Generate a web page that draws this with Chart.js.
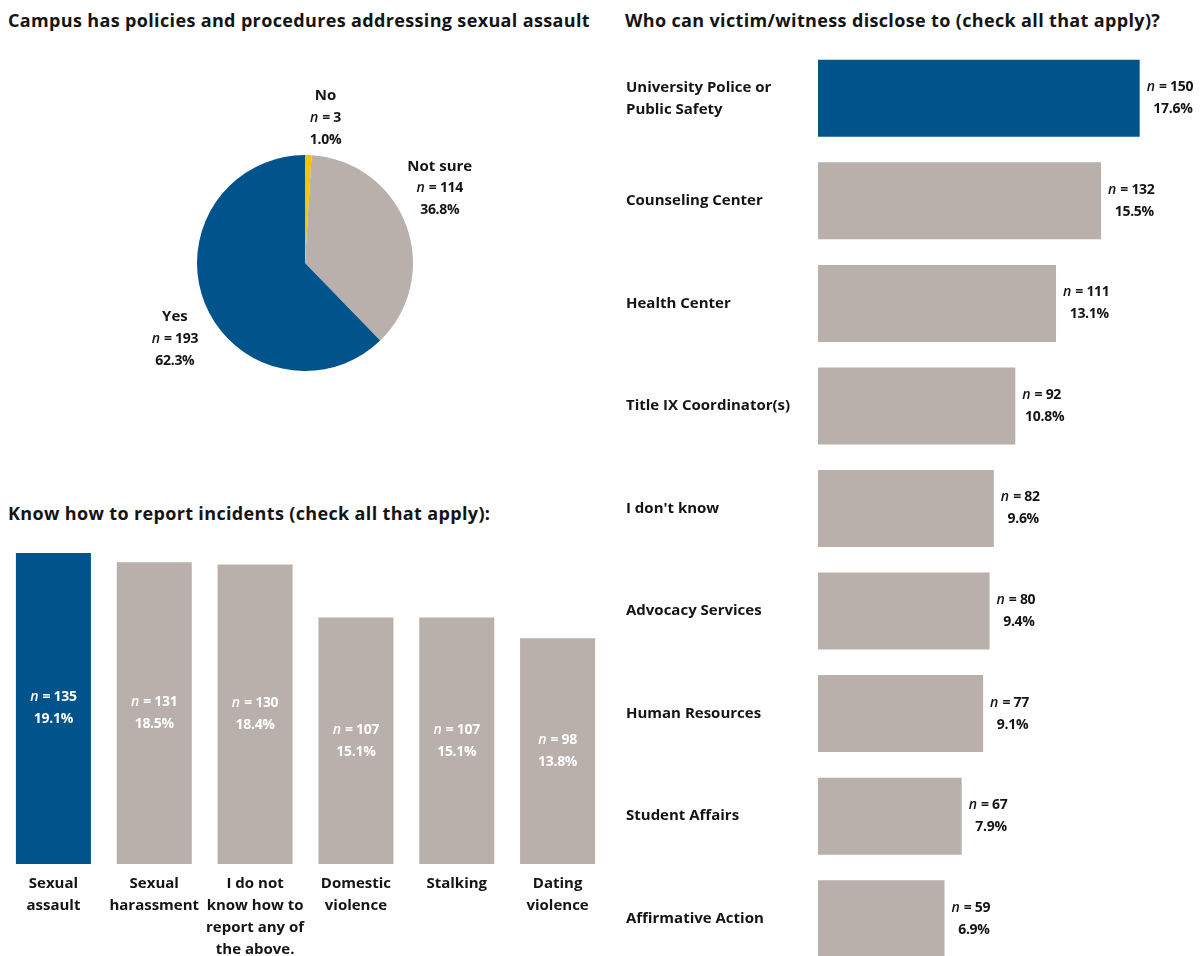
<!DOCTYPE html>
<html><head><meta charset="utf-8">
<script src="https://cdn.jsdelivr.net/npm/chart.js@4"></script>
<style>
html,body{margin:0;padding:0;background:#fff;overflow:hidden;width:1204px;height:956px;}
.t{position:absolute;font-family:"Open Sans",Lato,sans-serif;font-weight:700;font-size:18px;color:#141414;white-space:nowrap;line-height:22px;letter-spacing:0.35px;}
canvas{position:absolute;}
</style></head><body>
<div class="t" style="left:8px;top:9px">Campus has policies and procedures addressing sexual assault</div>
<div class="t" style="left:8px;top:502px">Know how to report incidents (check all that apply):</div>
<div class="t" style="left:625px;top:9px">Who can victim/witness disclose to (check all that apply)?</div>
<div style="position:absolute;left:105px;top:75px;width:400px;height:376px"><canvas id="pie"></canvas></div>
<div style="position:absolute;left:0px;top:540px;width:610px;height:434px"><canvas id="rep"></canvas></div>
<div style="position:absolute;left:610px;top:0px;width:594px;height:992px"><canvas id="dis"></canvas></div>
<script>
// ---- data ----
const pieLabels = ['No', 'Not sure', 'Yes'];
const pieCounts = [3, 114, 193];
const piePercents = ['1.0%', '36.8%', '62.3%'];

const reportLabels = [['Sexual','assault'], ['Sexual','harassment'], ['I do not','know how to','report any of','the above.'], ['Domestic','violence'], ['Stalking'], ['Dating','violence']];
const reportCounts = [135, 131, 130, 107, 107, 98];
const reportPercents = ['19.1%', '18.5%', '18.4%', '15.1%', '15.1%', '13.8%'];

const discloseLabels = [['University Police or','Public Safety'], 'Counseling Center', 'Health Center', 'Title IX Coordinator(s)', "I don't know", 'Advocacy Services', 'Human Resources', 'Student Affairs', 'Affirmative Action'];
const discloseCounts = [150, 132, 111, 92, 82, 80, 77, 67, 59];
const disclosePercents = ['17.6%', '15.5%', '13.1%', '10.8%', '9.6%', '9.4%', '9.1%', '7.9%', '6.9%'];

// ---- style ----
const BLUE = '#01548b', GRAY = '#b9b0ab', YELLOW = '#f4c400', TEXT = '#141414';
const FAM = '"Open Sans", Lato, sans-serif';
const LFONT = '700 14px ' + FAM;
const LFONT_I = 'italic 600 14px ' + FAM;
const NAMEFONT = '700 15px ' + FAM;
const SP = '-0.3px';
const LH = 22;
Chart.defaults.font.family = FAM;
Chart.defaults.animation = false;

function measure(ctx, s, font) {
  ctx.save(); ctx.font = font; ctx.letterSpacing = SP; const w = ctx.measureText(s).width; ctx.restore(); return w;
}
function drawNLine(ctx, count, cx, cy, color) {
  const wN = measure(ctx, 'n', LFONT_I) + 1;
  const rest = ' = ' + count;
  const wR = measure(ctx, rest, LFONT);
  const x0 = cx - (wN + wR) / 2;
  ctx.save();
  ctx.fillStyle = color; ctx.textBaseline = 'middle'; ctx.textAlign = 'left'; ctx.letterSpacing = SP;
  ctx.font = LFONT_I; ctx.fillText('n', x0, cy);
  ctx.font = LFONT; ctx.fillText(rest, x0 + wN, cy);
  ctx.restore();
}
function drawText(ctx, s, cx, cy, color, font) {
  ctx.save(); ctx.fillStyle = color; ctx.font = font || LFONT; ctx.letterSpacing = font ? '0px' : SP;
  ctx.textAlign = 'center'; ctx.textBaseline = 'middle';
  ctx.fillText(s, cx, cy); ctx.restore();
}

// ---- pie ----
const pieLabelPlugin = {
  id: 'pieLabels',
  afterDatasetsDraw(chart, args, opts) {
    const ctx = chart.ctx;
    chart.getDatasetMeta(0).data.forEach((arc, i) => {
      const p = arc.getProps(['x','y','startAngle','endAngle','outerRadius'], true);
      const mid = (p.startAngle + p.endAngle) / 2;
      const r = p.outerRadius * opts.radiusFactor;
      const off = opts.offsets[i];
      const cx = p.x + Math.cos(mid) * r + off[0];
      const cy = p.y + Math.sin(mid) * r + off[1];
      drawText(ctx, pieLabels[i], cx, cy - LH, TEXT, NAMEFONT);
      drawNLine(ctx, pieCounts[i], cx, cy, TEXT);
      drawText(ctx, piePercents[i], cx, cy + LH, TEXT);
    });
  }
};
new Chart(document.getElementById('pie'), {
  type: 'pie',
  data: { labels: pieLabels, datasets: [{ data: pieCounts, backgroundColor: [YELLOW, GRAY, BLUE], borderWidth: 0 }] },
  options: {
    responsive: true, maintainAspectRatio: false,
    layout: { padding: 80 },
    plugins: { legend: { display: false }, tooltip: { enabled: false },
      pieLabels: { radiusFactor: 1.38, offsets: [[16, 4], [-5, -23], [8, 20]] } }
  },
  plugins: [pieLabelPlugin]
});

// ---- vertical bars ----
const inBarPlugin = {
  id: 'inBar',
  afterDatasetsDraw(chart) {
    const ctx = chart.ctx;
    chart.getDatasetMeta(0).data.forEach((bar, i) => {
      const cy = (bar.y + bar.base) / 2;
      drawNLine(ctx, reportCounts[i], bar.x, cy - LH / 2, '#ffffff');
      drawText(ctx, reportPercents[i], bar.x, cy + LH / 2, '#ffffff');
    });
  }
};
new Chart(document.getElementById('rep'), {
  type: 'bar',
  data: { labels: reportLabels, datasets: [{ data: reportCounts,
    backgroundColor: reportCounts.map((v, i) => i === 0 ? BLUE : GRAY),
    barPercentage: 0.744, categoryPercentage: 1 }] },
  options: {
    responsive: true, maintainAspectRatio: false,
    layout: { padding: { left: 3, right: 2, top: 13, bottom: 0 } },
    plugins: { legend: { display: false }, tooltip: { enabled: false } },
    scales: {
      y: { display: false, min: 0, max: 135 },
      x: { grid: { display: false, drawTicks: false }, border: { display: false },
        ticks: { autoSkip: false, maxRotation: 0, padding: 9, color: TEXT, font: { size: 15, weight: 700, lineHeight: LH / 15 } },
        afterFit(s) { s.height = 110; } }
    }
  },
  plugins: [inBarPlugin]
});

// ---- horizontal bars ----
const endLabelPlugin = {
  id: 'endLabel',
  afterDatasetsDraw(chart) {
    const ctx = chart.ctx;
    chart.getDatasetMeta(0).data.forEach((bar, i) => {
      const w1 = measure(ctx, 'n', LFONT_I) + 1 + measure(ctx, ' = ' + discloseCounts[i], LFONT);
      const cx = bar.x + 7 + w1 / 2;
      drawNLine(ctx, discloseCounts[i], cx, bar.y - LH / 2, TEXT);
      drawText(ctx, disclosePercents[i], cx + 3, bar.y + LH / 2, TEXT);
    });
  }
};
new Chart(document.getElementById('dis'), {
  type: 'bar',
  data: { labels: discloseLabels, datasets: [{ data: discloseCounts,
    backgroundColor: discloseCounts.map((v, i) => i === 0 ? BLUE : GRAY),
    barPercentage: 0.751, categoryPercentage: 1 }] },
  options: {
    indexAxis: 'y',
    responsive: true, maintainAspectRatio: false,
    layout: { padding: { left: 16, right: 0, top: 47, bottom: 0 } },
    plugins: { legend: { display: false }, tooltip: { enabled: false } },
    scales: {
      x: { display: false, min: 0, max: 180 },
      y: { grid: { display: false, drawTicks: false }, border: { display: false },
        ticks: { autoSkip: false, crossAlign: 'far', padding: 0, color: TEXT, font: { size: 15, weight: 700, lineHeight: LH / 15 } },
        afterFit(s) { s.width = 192; } }
    }
  },
  plugins: [endLabelPlugin]
});
</script>
</body></html>
